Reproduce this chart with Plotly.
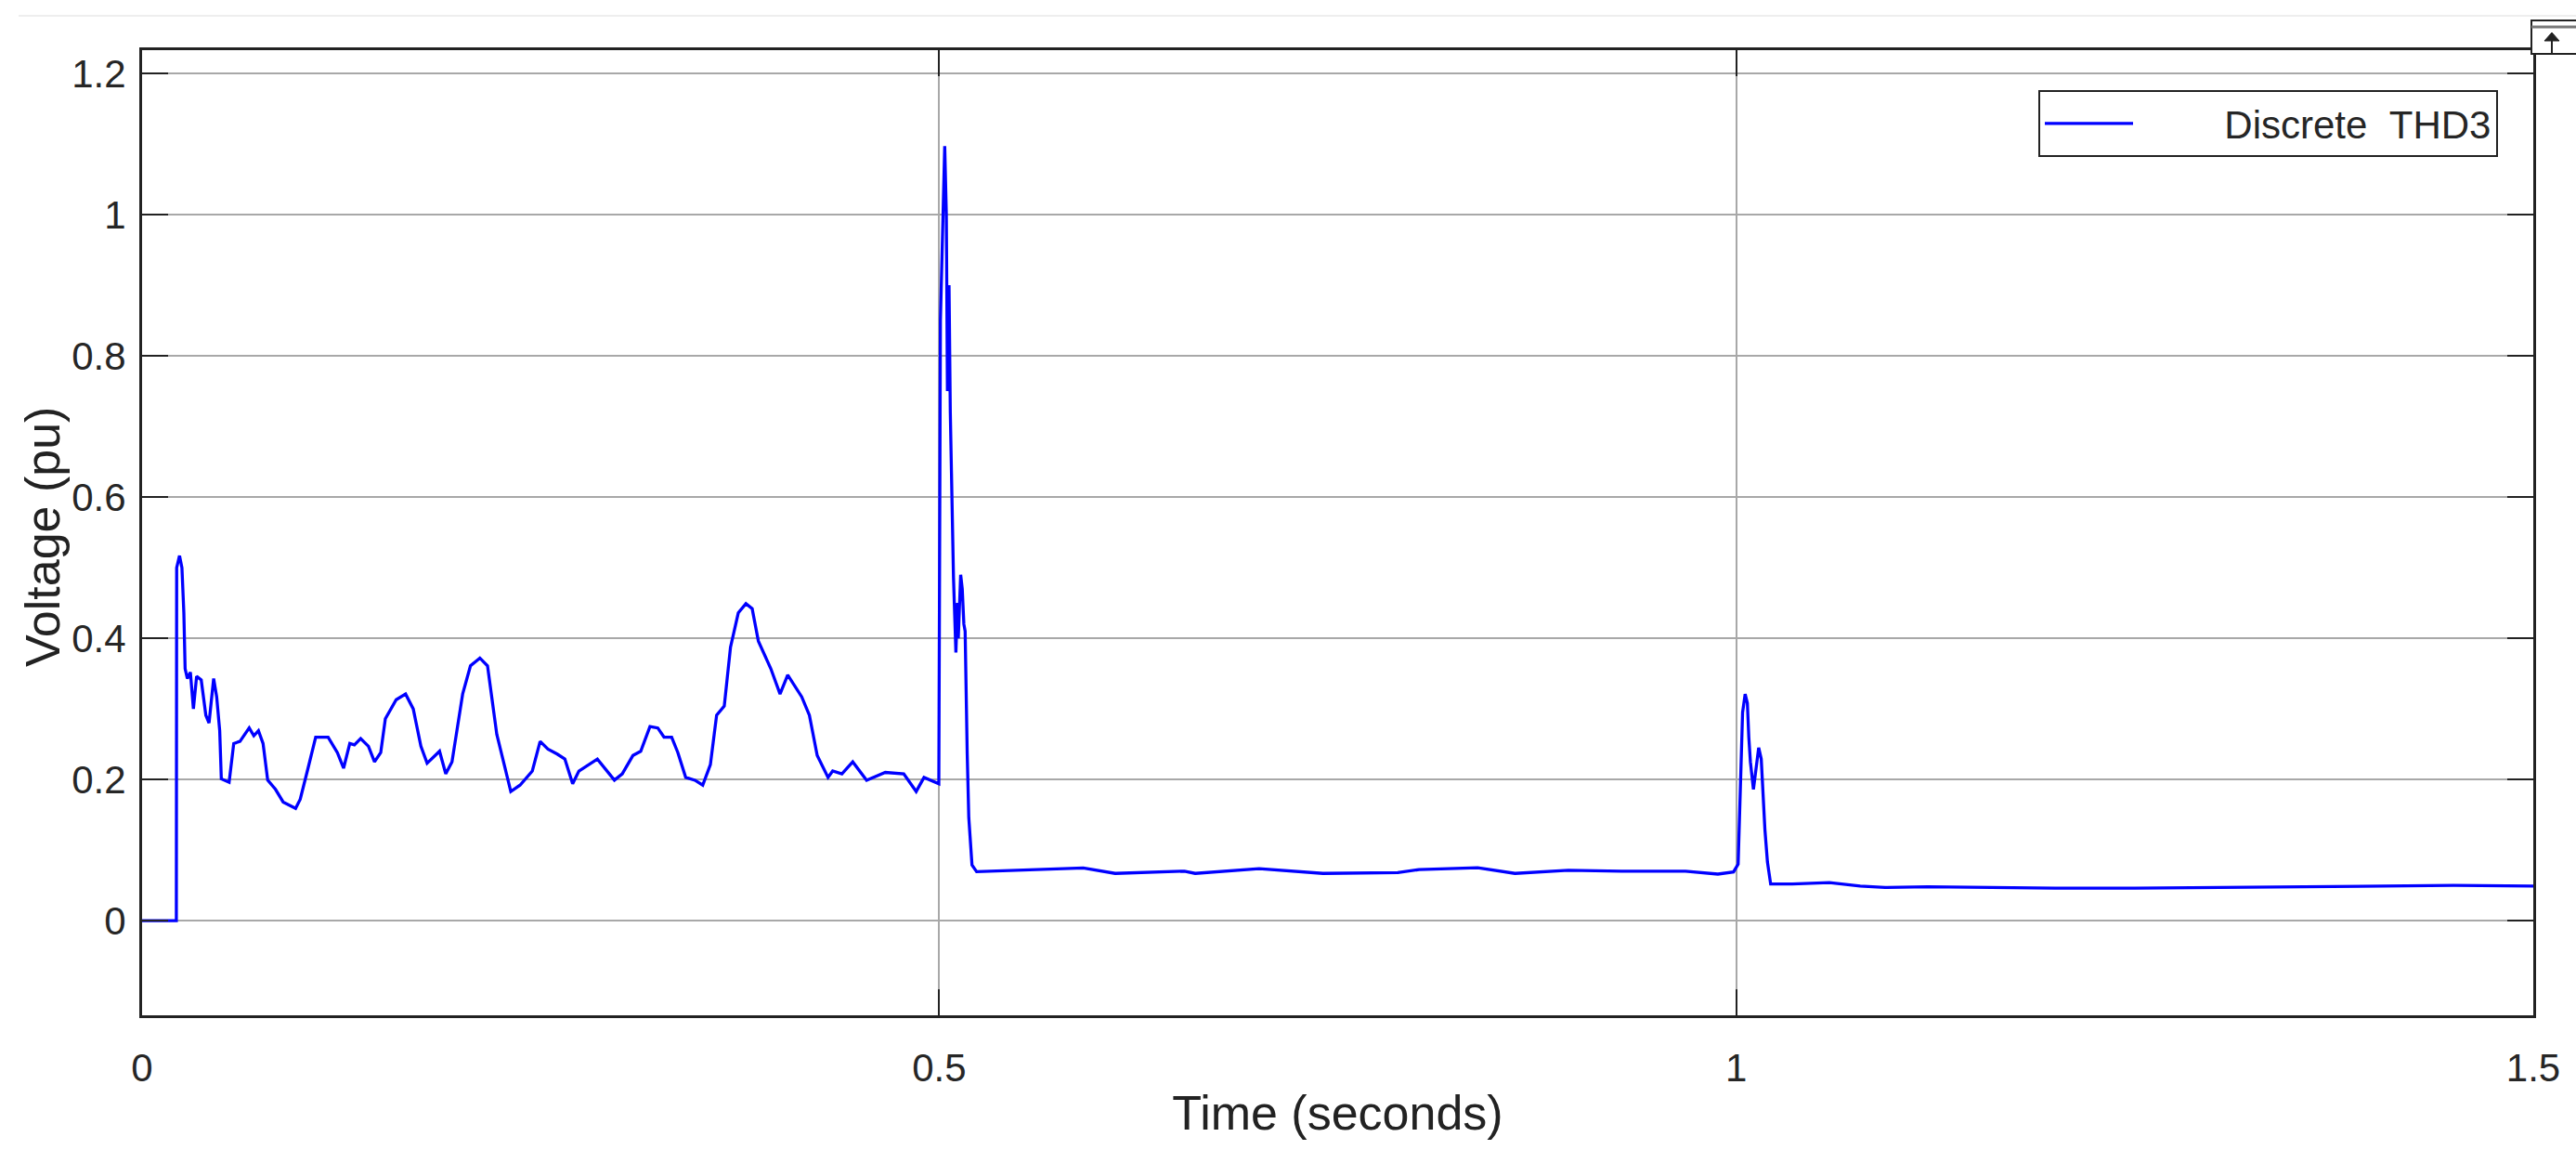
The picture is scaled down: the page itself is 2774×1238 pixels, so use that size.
import plotly.graph_objects as go

# Discrete THD3 trace
time_s = [
    0.0, 0.0215, 0.0217, 0.0235, 0.025, 0.0262, 0.027, 0.0284, 0.0303, 0.0322,
    0.0342, 0.0371, 0.04, 0.042, 0.0449, 0.0468, 0.0487, 0.0497, 0.0546, 0.0575,
    0.0614, 0.0672, 0.0701, 0.073, 0.0759, 0.0788, 0.0837, 0.0885, 0.0963, 0.0992,
    0.1041, 0.1089, 0.1167, 0.1225, 0.1264, 0.1303, 0.1332, 0.1371, 0.142, 0.1458,
    0.1497, 0.1526, 0.1594, 0.1653, 0.1701, 0.1749, 0.1788, 0.1866, 0.1905, 0.1944,
    0.2011, 0.206, 0.2119, 0.2167, 0.2225, 0.2264, 0.2313, 0.2371, 0.2448, 0.2497,
    0.2546, 0.2604, 0.2652, 0.2701, 0.274, 0.2856, 0.2963, 0.3012, 0.3079, 0.3128,
    0.3186, 0.3235, 0.3274, 0.3322, 0.3361, 0.341, 0.3468, 0.3517, 0.3565, 0.3604,
    0.3652, 0.3691, 0.374, 0.3788, 0.3827, 0.3866, 0.3944, 0.4002, 0.405, 0.4138,
    0.4186, 0.4235, 0.4303, 0.4332, 0.439, 0.4458, 0.4545, 0.4662, 0.4778, 0.4856,
    0.4905, 0.4998,
    0.5003, 0.5008, 0.5035, 0.5045, 0.5052, 0.5062, 0.507, 0.508, 0.509, 0.5105,
    0.5115, 0.512, 0.5135, 0.5145, 0.5155, 0.5163, 0.5167, 0.5176, 0.5186, 0.5206,
    0.5235, 0.5603, 0.5904, 0.6104, 0.6539, 0.6606, 0.7007, 0.7408, 0.7877, 0.801,
    0.8378, 0.8612, 0.8947, 0.9281, 0.9682, 0.9885, 0.9983,
    1.0012, 1.0021, 1.0031, 1.004, 1.0056, 1.007, 1.0079, 1.0089, 1.0108, 1.0124,
    1.0141, 1.0157, 1.0167, 1.018, 1.0196, 1.0216, 1.0351, 1.0584, 1.0778, 1.0934,
    1.12, 1.15, 1.2, 1.25, 1.3, 1.35, 1.4, 1.45, 1.5,
]
thd3_pu = [
    0.0, 0.0, 0.50, 0.517, 0.50, 0.436, 0.357, 0.343, 0.352, 0.300,
    0.346, 0.341, 0.291, 0.280, 0.343, 0.317, 0.269, 0.201, 0.196, 0.251,
    0.254, 0.273, 0.262, 0.269, 0.251, 0.199, 0.186, 0.168, 0.159, 0.172,
    0.216, 0.260, 0.260, 0.238, 0.216, 0.251, 0.249, 0.258, 0.247, 0.225,
    0.238, 0.286, 0.313, 0.321, 0.300, 0.247, 0.223, 0.240, 0.208, 0.225,
    0.321, 0.361, 0.372, 0.361, 0.264, 0.229, 0.183, 0.192, 0.212, 0.254,
    0.243, 0.236, 0.229, 0.194, 0.212, 0.229, 0.199, 0.208, 0.234, 0.240,
    0.275, 0.273, 0.260, 0.260, 0.238, 0.203, 0.199, 0.192, 0.221, 0.291,
    0.304, 0.387, 0.436, 0.449, 0.442, 0.396, 0.357, 0.321, 0.348, 0.317,
    0.291, 0.234, 0.203, 0.212, 0.208, 0.225, 0.199, 0.210, 0.208, 0.183,
    0.203, 0.194,
    0.51, 0.85, 1.097, 1.00, 0.75, 0.90, 0.72, 0.614, 0.486, 0.380,
    0.45, 0.40, 0.49, 0.47, 0.42, 0.41, 0.33, 0.237, 0.146, 0.079,
    0.0695, 0.0724, 0.0746, 0.067, 0.0702, 0.067, 0.0737, 0.067, 0.068, 0.0724,
    0.075, 0.067, 0.0715, 0.0702, 0.0702, 0.066, 0.069,
    0.080, 0.155, 0.243, 0.295, 0.321, 0.308, 0.260, 0.225, 0.186, 0.216,
    0.245, 0.229, 0.181, 0.129, 0.083, 0.052, 0.052, 0.054, 0.049, 0.047,
    0.048, 0.047, 0.046, 0.046, 0.047, 0.048, 0.048, 0.050, 0.049,
]

x_ticks = [0, 0.5, 1, 1.5]
x_tick_labels = ["0", "0.5", "1", "1.5"]
y_ticks = [0, 0.2, 0.4, 0.6, 0.8, 1.0, 1.2]
y_tick_labels = ["0", "0.2", "0.4", "0.6", "0.8", "1", "1.2"]

W, H = 2774, 1238
L, R, T, B = 153, 46, 54, 145
FONT = "Liberation Sans, Arial"


def px(x):
    # page pixel -> paper x
    return (x - L) / (W - L - R)


def py(y):
    # page pixel -> paper y
    return (H - B - y) / (H - T - B)


fig = go.Figure()
fig.add_trace(go.Scatter(
    x=time_s, y=thd3_pu, mode="lines",
    name="\u00a0" * 8 + "Discrete\u00a0\u00a0THD3",
    line=dict(color="#0000ff", width=3.3),
))

axis_common = dict(
    showline=True, linecolor="#222222", linewidth=3, mirror="ticks",
    ticks="inside", ticklen=28, tickwidth=2, tickcolor="#222222",
    showgrid=True, gridcolor="#a8a8a8", gridwidth=2, zeroline=False,
    automargin=False,
    tickfont=dict(family=FONT, size=42, color="#262626"),
)

fig.update_xaxes(
    range=[0, 1.5], tickvals=x_ticks, ticktext=x_tick_labels,
    ticklabelstandoff=18,
    title=dict(text="Time (seconds)", standoff=8,
               font=dict(family=FONT, size=52, color="#222222")),
    **axis_common,
)
fig.update_yaxes(
    range=[-0.134, 1.233], tickvals=y_ticks, ticktext=y_tick_labels,
    ticklabelstandoff=6,
    **axis_common,
)

# scope window decorations: faint top rule and the small expand button
shapes = [
    dict(type="line", xref="paper", yref="paper", x0=px(20), x1=px(2774), y0=py(17), y1=py(17),
         line=dict(color="#eeeeee", width=2)),
    dict(type="rect", xref="paper", yref="paper", x0=px(2726), x1=px(2776), y0=py(58), y1=py(22),
         line=dict(color="#222222", width=2), fillcolor="white"),
    dict(type="line", xref="paper", yref="paper", x0=px(2726), x1=px(2776), y0=py(29), y1=py(29),
         line=dict(color="#777777", width=3)),
    dict(type="path", xref="paper", yref="paper",
         path=f"M{px(2740)},{py(44)} L{px(2748)},{py(35)} L{px(2756)},{py(44)} Z",
         line=dict(color="#222222", width=1), fillcolor="#222222"),
    dict(type="line", xref="paper", yref="paper", x0=px(2748), x1=px(2748), y0=py(44), y1=py(57),
         line=dict(color="#222222", width=2)),
]

fig.update_layout(
    width=W, height=H,
    margin=dict(l=L, r=R, t=T, b=B, pad=0),
    paper_bgcolor="white", plot_bgcolor="white",
    font=dict(family=FONT, color="#222222"),
    showlegend=True,
    legend=dict(
        x=px(2690), y=py(97), xanchor="right", yanchor="top",
        bgcolor="white", bordercolor="#222222", borderwidth=2,
        font=dict(family=FONT, size=42, color="#262626"),
        itemwidth=95,
    ),
    shapes=shapes,
    annotations=[dict(
        text="Voltage (pu)", textangle=-90, showarrow=False,
        xref="paper", yref="paper", x=px(46), y=py(578),
        xanchor="center", yanchor="middle",
        font=dict(family=FONT, size=52, color="#222222"),
    )],
)

fig.write_html("out.html", config={"displayModeBar": False},
               post_script="document.body.style.margin='0';")
